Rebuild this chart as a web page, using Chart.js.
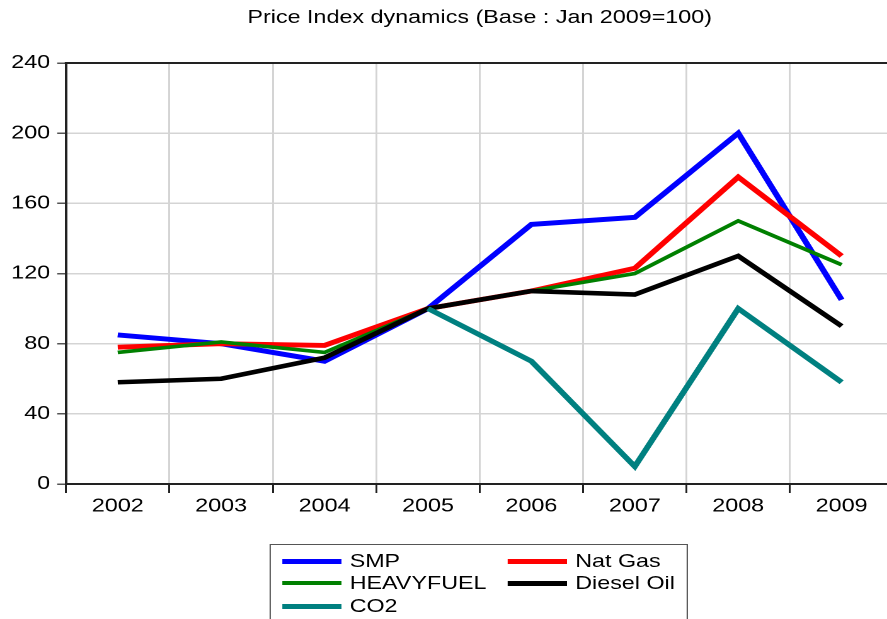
<!DOCTYPE html>
<html>
<head>
<meta charset="utf-8">
<script src="https://cdn.jsdelivr.net/npm/chart.js@4"></script>
<style>
    body { margin: 0; overflow: hidden; background: #fff; }
    #wrap {
        position: absolute; left: 0; top: 0;
        width: 709px; height: 619px;
        transform: scaleX(1.26); transform-origin: 0 0;
        font-family: "Liberation Sans", Arial, sans-serif;
    }
    #legend {
        position: absolute; left: 213.5px; top: 544px;
        width: 332px; height: 90px;
        border: 1px solid #555; box-sizing: border-box;
    }
    .item { position: absolute; font-size: 18.5px; line-height: 22px; white-space: nowrap; }
    .swatch { display: inline-block; width: 47px; height: 5px; vertical-align: middle; margin-right: 7px; position: relative; top: -1px; }
</style>
</head>
<body>
<div id="wrap">
    <canvas id="lineChart" width="709" height="530"></canvas>
    <div id="legend"></div>
</div>
<script>
const years = ['2002', '2003', '2004', '2005', '2006', '2007', '2008', '2009'];

const smp       = [85, 80, 70, 100, 148, 152, 200, 105];
const natGas    = [78, 80, 79, 100, 110, 123, 175, 130];
const heavyFuel = [75, 81, 75, 100, 110, 120, 150, 125];
const dieselOil = [58, 60, 72, 100, 110, 108, 130, 90];
const co2       = [null, null, null, 100, 70, 10, 100, 58];

const seriesNames = ['SMP', 'Nat Gas', 'HEAVYFUEL', 'Diesel Oil', 'CO2'];
const seriesColors = ['#0000ff', '#ff0000', '#008000', '#000000', '#008080'];

const yTicks = [0, 40, 80, 120, 160, 200, 240];

const FONT = '"Liberation Sans", Arial, sans-serif';

const topBorder = {
    id: 'topBorder',
    beforeDatasetsDraw (chart) {
        const ctx = chart.ctx;
        const a = chart.chartArea;
        ctx.save();
        ctx.strokeStyle = '#222';
        ctx.lineWidth = 2;
        ctx.beginPath();
        ctx.moveTo(a.left - 1, a.top);
        ctx.lineTo(a.right, a.top);
        ctx.stroke();
        ctx.restore();
    }
};

const allData = [smp, natGas, heavyFuel, dieselOil, co2];
const widths = [4.9, 4.9, 3.6, 4.6, 4.9];

const chart = new Chart(document.getElementById('lineChart').getContext('2d'), {
    type: 'line',
    data: {
        labels: years,
        datasets: allData.map((d, i) => ({
            label: seriesNames[i],
            data: d,
            borderColor: seriesColors[i],
            backgroundColor: seriesColors[i],
            borderWidth: widths[i],
            pointRadius: 0,
            tension: 0,
            order: 5 - i
        }))
    },
    options: {
        responsive: false,
        animation: false,
        devicePixelRatio: 2,
        layout: { padding: 0 },
        plugins: {
            legend: { display: false },
            tooltip: { enabled: false },
            title: {
                display: true,
                fullSize: false,
                text: 'Price Index dynamics (Base : Jan 2009=100)',
                color: '#000',
                font: { family: FONT, size: 18.5, weight: 'normal', lineHeight: 1.2 },
                padding: { top: 7, bottom: 33.8 }
            }
        },
        scales: {
            x: {
                offset: true,
                grid: { offset: true, color: '#d4d4d4', lineWidth: 1.5, tickColor: '#222', tickLength: 9 },
                border: { color: '#222', width: 2 },
                ticks: { color: '#000', padding: 2.4, maxRotation: 0, font: { family: FONT, size: 18.5, lineHeight: 1.2 } },
                afterFit (scale) { scale.height = 46; }
            },
            y: {
                min: 0,
                max: 240,
                afterBuildTicks (scale) { scale.ticks = yTicks.map(v => ({ value: v })); },
                grid: { color: '#d4d4d4', lineWidth: 1.5, tickColor: '#555', tickLength: 7 },
                border: { color: '#222', width: 2 },
                ticks: { color: '#000', padding: 5.6, font: { family: FONT, size: 18.5 } },
                afterFit (scale) { scale.width = 52.4; }
            }
        }
    },
    plugins: [topBorder]
});

// legend in two columns, like the original
const legendPos = [
    [9, 5], [188, 5],
    [9, 27], [188, 27],
    [9, 50]
];
const legendBox = document.getElementById('legend');
chart.data.datasets.forEach((ds, i) => {
    const el = document.createElement('div');
    el.className = 'item';
    el.style.left = legendPos[i][0] + 'px';
    el.style.top = legendPos[i][1] + 'px';
    const sw = document.createElement('span');
    sw.className = 'swatch';
    sw.style.background = ds.borderColor;
    sw.style.height = Math.round(ds.borderWidth) + 'px';
    el.appendChild(sw);
    el.appendChild(document.createTextNode(ds.label));
    legendBox.appendChild(el);
});
</script>
</body>
</html>
